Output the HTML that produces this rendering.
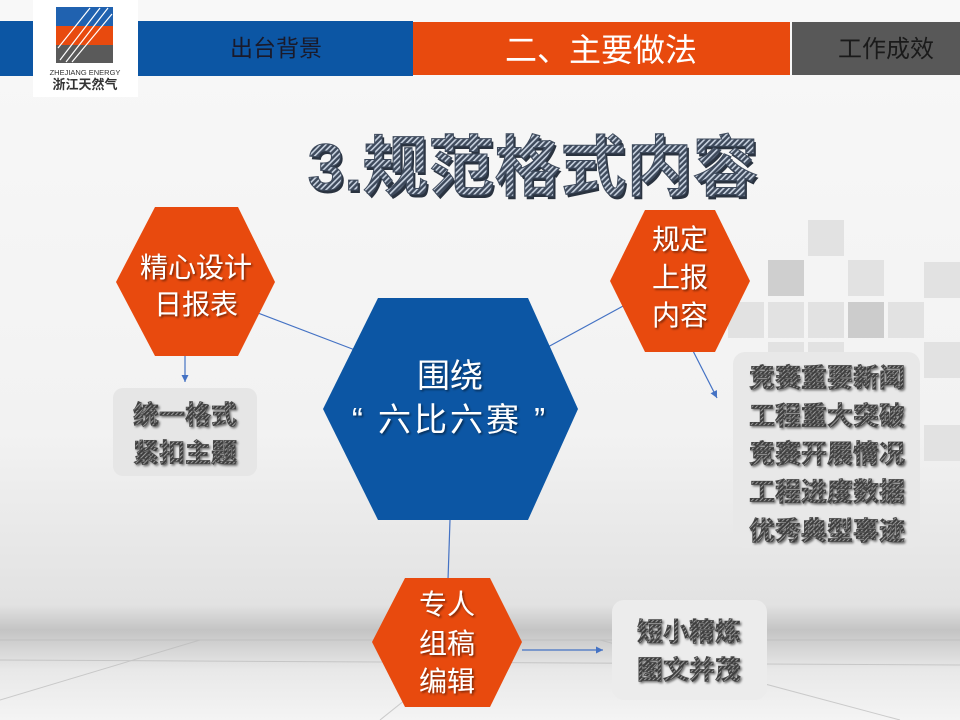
<!DOCTYPE html>
<html><head><meta charset="utf-8"><style>
html,body{margin:0;padding:0;width:960px;height:720px;overflow:hidden;background:#f5f5f5}
svg{display:block}
text{font-family:"Liberation Sans","Noto Sans CJK SC",sans-serif}
</style></head><body>
<svg width="960" height="720" viewBox="0 0 960 720">
<defs>
<linearGradient id="bg" x1="0" y1="0" x2="0" y2="1">
<stop offset="0" stop-color="#f8f8f8"/><stop offset="0.6" stop-color="#f2f2f2"/><stop offset="0.84" stop-color="#e2e2e2"/><stop offset="0.875" stop-color="#c4c4c4"/><stop offset="0.93" stop-color="#e8e8e8"/><stop offset="1" stop-color="#f4f4f4"/>
</linearGradient>
<pattern id="hatch" width="4" height="4" patternUnits="userSpaceOnUse" patternTransform="rotate(45)">
<rect width="4" height="4" fill="#3e4a5c"/><rect width="1.6" height="4" fill="#c8d2e0"/>
</pattern>
<pattern id="hatch2" width="3" height="3" patternUnits="userSpaceOnUse" patternTransform="rotate(45)">
<rect width="3" height="3" fill="#3a3a3a"/><rect width="1.1" height="3" fill="#9a9a9a"/>
</pattern>
<filter id="sh" x="-10%" y="-10%" width="130%" height="130%"><feDropShadow dx="1.5" dy="1.5" stdDeviation="1" flood-color="#000" flood-opacity="0.5"/></filter>
<marker id="ar" markerWidth="8" markerHeight="8" refX="6" refY="3" orient="auto"><path d="M0,0 L6,3 L0,6z" fill="#4472c4"/></marker>
</defs>
<rect width="960" height="720" fill="url(#bg)"/>
<g stroke="#bbb" stroke-width="1" fill="none" opacity="0.7">
<line x1="0" y1="640" x2="960" y2="640"/><line x1="0" y1="660" x2="960" y2="665"/>
<line x1="480" y1="640" x2="380" y2="720"/><line x1="600" y1="640" x2="900" y2="720"/><line x1="200" y1="640" x2="0" y2="700"/>
</g>
<g fill="#e2e2e2">
<rect x="808" y="220" width="36" height="36"/><rect x="768" y="260" width="36" height="36" fill="#cfcfcf"/>
<rect x="848" y="260" width="36" height="36"/><rect x="924" y="262" width="36" height="36"/>
<rect x="728" y="302" width="36" height="36"/><rect x="768" y="302" width="36" height="36"/><rect x="808" y="302" width="36" height="36"/>
<rect x="848" y="302" width="36" height="36" fill="#cccccc"/><rect x="888" y="302" width="36" height="36"/>
<rect x="768" y="342" width="36" height="36"/><rect x="808" y="342" width="36" height="36"/><rect x="924" y="342" width="36" height="36"/>
<rect x="924" y="425" width="36" height="36"/>
</g>
<rect x="0" y="21" width="413" height="55" fill="#0c56a4"/>
<rect x="413" y="22" width="377" height="53" fill="#e84a0e"/>
<rect x="792" y="22" width="168" height="53" fill="#585858"/>
<rect x="33" y="0" width="105" height="97" fill="#fff"/>
<rect x="56" y="7" width="57" height="19" fill="#2062b0"/>
<rect x="56" y="26" width="57" height="19" fill="#e84a0e"/>
<rect x="56" y="45" width="57" height="18" fill="#5a5a5a"/>
<g stroke="#fff" stroke-width="1.2"><line x1="60" y1="60" x2="100" y2="8"/><line x1="66" y1="62" x2="108" y2="8"/><line x1="72" y1="62" x2="112" y2="14"/><line x1="58" y1="48" x2="90" y2="8"/></g>
<text x="85" y="75" font-size="7.5" fill="#333" text-anchor="middle">ZHEJIANG ENERGY</text>
<text x="85" y="89" font-size="13" font-weight="bold" fill="#333" text-anchor="middle">浙江天然气</text>
<text x="276" y="56" font-size="23" fill="#1a1a2a" text-anchor="middle">出台背景</text>
<text x="601" y="61" font-size="32" fill="#fff" text-anchor="middle">二、主要做法</text>
<text x="886" y="57" font-size="24" fill="#1a1a1a" text-anchor="middle">工作成效</text>
<text x="533" y="190" font-size="66" font-weight="bold" fill="#2a3340" text-anchor="middle" transform="translate(2,3)">3.规范格式内容</text>
<text x="533" y="190" font-size="66" font-weight="bold" fill="url(#hatch)" stroke="#3e4a5c" stroke-width="1" text-anchor="middle">3.规范格式内容</text>
<g stroke="#4472c4" stroke-width="1.2" fill="none">
<line x1="250" y1="310" x2="355" y2="350"/>
<line x1="625" y1="305" x2="546" y2="348"/>
<line x1="450" y1="520" x2="448" y2="580"/>
<line x1="185" y1="342" x2="185" y2="382" marker-end="url(#ar)"/>
<line x1="690" y1="345" x2="717" y2="398" marker-end="url(#ar)"/>
<line x1="522" y1="650" x2="603" y2="650" marker-end="url(#ar)"/>
</g>
<rect x="113" y="388" width="144" height="88" rx="10" fill="#e6e6e6"/>
<rect x="733" y="352" width="187" height="196" rx="12" fill="#e8e8e8"/>
<rect x="612" y="600" width="155" height="100" rx="12" fill="#ececec"/>
<g font-size="26" font-weight="bold" fill="url(#hatch2)" stroke="#444" stroke-width="0.7" text-anchor="middle" filter="url(#sh)">
<text x="185" y="424">统一格式</text><text x="185" y="462">紧扣主题</text>
<text x="827" y="387">竞赛重要新闻</text><text x="827" y="425">工程重大突破</text><text x="827" y="463">竞赛开展情况</text><text x="827" y="501">工程进度数据</text><text x="827" y="540">优秀典型事迹</text>
<text x="689" y="641">短小精炼</text><text x="689" y="679">图文并茂</text>
</g>
<polygon points="116,282 155,207 238,207 275,282 238,356 155,356" fill="#e84a0e"/>
<polygon points="610,281 645,210 715,210 750,281 715,352 645,352" fill="#e84a0e"/>
<polygon points="323,409 378,298 528,298 578,409 528,520 378,520" fill="#0c56a4"/>
<polygon points="372,642 405,578 490,578 522,642 490,707 405,707" fill="#e84a0e"/>
<g fill="#fff" text-anchor="middle" filter="url(#sh)">
<text x="196" y="277" font-size="28">精心设计</text><text x="196" y="314" font-size="28">日报表</text>
<text x="680" y="249" font-size="28">规定</text><text x="680" y="287" font-size="28">上报</text><text x="680" y="325" font-size="28">内容</text>
<text x="450" y="387" font-size="33">围绕</text><text x="450" y="431" font-size="33" letter-spacing="3">“ 六比六赛 ”</text>
<text x="447" y="614" font-size="28">专人</text><text x="447" y="653" font-size="28">组稿</text><text x="447" y="691" font-size="28">编辑</text>
</g>
</svg>
</body></html>
